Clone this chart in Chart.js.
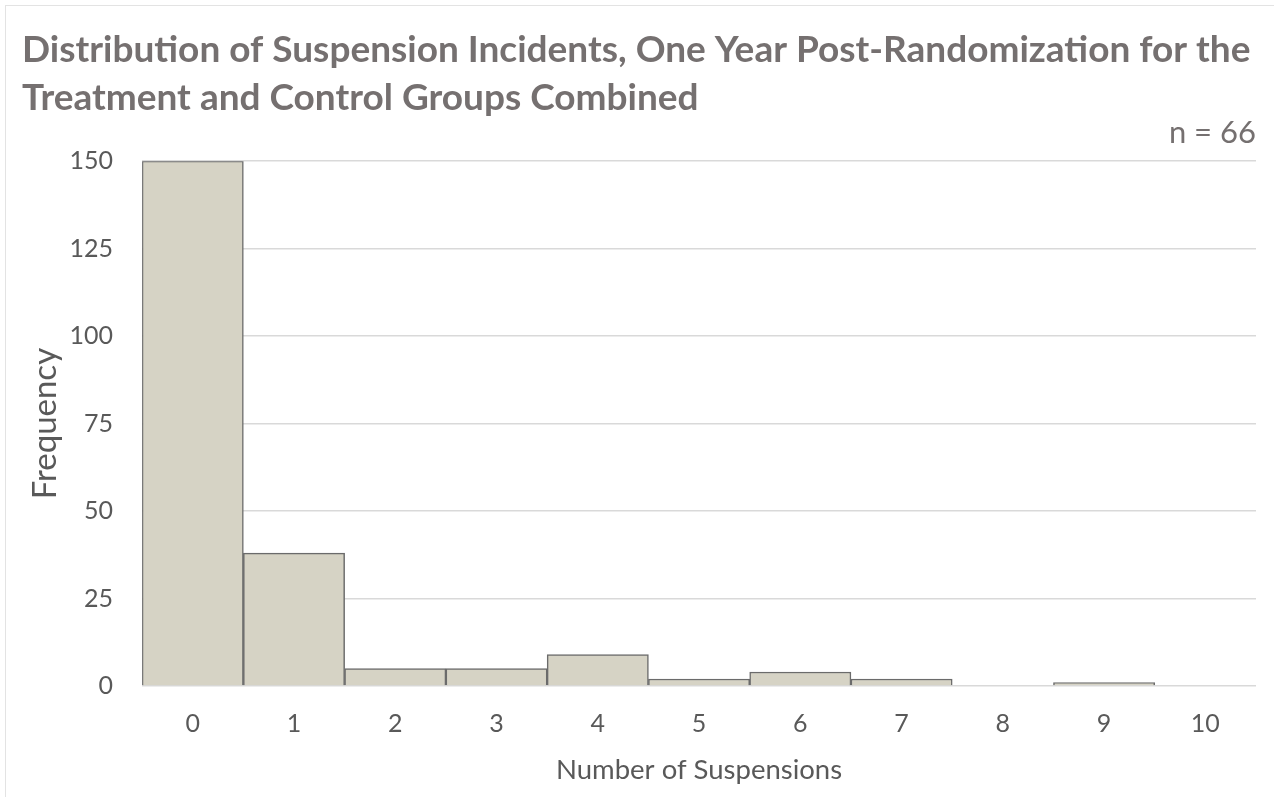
<!DOCTYPE html>
<html>
<head>
<meta charset="utf-8">
<script src="https://cdn.jsdelivr.net/npm/chart.js@4"></script>
<style>
  body { margin: 0; background: #fff; }
  #wrap { width: 1274px; height: 797px; position: relative; }
</style>
</head>
<body>
<div id="wrap"><canvas id="histo" width="1274" height="797"></canvas></div>
<script>
// suspensions per student, one year after randomization
const suspensions = ['0', '1', '2', '3', '4', '5', '6', '7', '8', '9', '10'];
const frequency = [150, 38, 5, 5, 9, 2, 4, 2, 0, 1, 0];
const yTicks = [0, 25, 50, 75, 100, 125, 150];

const grey = '#757070';
const axisGrey = '#595959';
const face = 'Lato';

// faint frame of the chart object, only its top/left edge shows in the picture
const frame = {
    id: 'frame',
    beforeDraw(c) {
        const g = c.ctx;
        g.save();
        g.strokeStyle = '#e3e3e3';
        g.lineWidth = 1;
        g.strokeRect(5.5, 5.5, c.width + 20, c.height + 20);
        g.restore();
    }
};

const ctx = document.getElementById('histo').getContext('2d');
const chart = new Chart(ctx, {
    type: 'bar',
    data: {
        labels: suspensions,
        datasets: [{
            label: 'Frequency',
            data: frequency,
            backgroundColor: '#d6d3c5',
            borderColor: '#6b6b6b',
            borderWidth: 1.5,
            barPercentage: 1,
            categoryPercentage: 1
        }]
    },
    options: {
        responsive: false,
        animation: false,
        layout: { padding: { left: 22, right: 18, top: 26, bottom: 6 } },
        plugins: {
            legend: { display: false },
            tooltip: { enabled: false },
            title: {
                display: true,
                align: 'start',
                text: ['Distribution of Suspension Incidents, One Year Post-Randomization for the',
                       'Treatment and Control Groups Combined'],
                color: grey,
                font: { family: face, size: 37, weight: 'bold', lineHeight: 1.3 },
                padding: { top: 0, bottom: 0 }
            },
            subtitle: {
                display: true,
                align: 'end',
                text: 'n = 66',
                color: grey,
                font: { family: face, size: 31, lineHeight: 1.0 },
                padding: { top: -5, bottom: 13 }
            }
        },
        scales: {
            x: {
                grid: { display: false },
                border: { display: false },
                ticks: { color: axisGrey, font: { family: face, size: 25 }, padding: 15 },
                title: {
                    display: true,
                    text: 'Number of Suspensions',
                    color: axisGrey,
                    font: { family: face, size: 27.5 },
                    padding: { top: 0 }
                }
            },
            y: {
                min: 0,
                max: 150,
                afterBuildTicks: axis => { axis.ticks = yTicks.map(v => ({ value: v })); },
                grid: { color: '#d9d9d9', lineWidth: 1.5, drawTicks: false },
                border: { display: false },
                ticks: { color: axisGrey, font: { family: face, size: 25 }, padding: 29 },
                title: {
                    display: true,
                    text: 'Frequency',
                    color: axisGrey,
                    font: { family: face, size: 33 },
                    padding: { top: 4, bottom: -25 }
                }
            }
        }
    },
    plugins: [frame]
});
</script>
</body>
</html>
